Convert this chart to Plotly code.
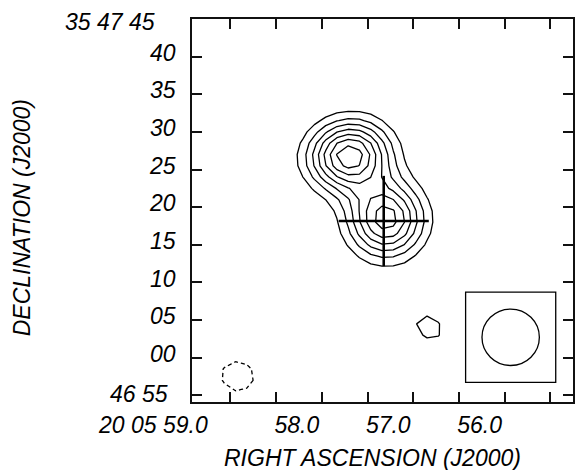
import numpy as np
import plotly.graph_objects as go

# Field centre declination (+35 47 00); RA in seconds of 20h05m, Dec in arcsec offset from +35 47 00
DEC0_DEG = 35 + 47 / 60
ARCSEC_PER_RA_SEC = 15 * np.cos(np.radians(DEC0_DEG))

# Source components: position, peak (in units of map rms), Gaussian sigma (arcsec), PA (deg, N through E)
comp_ra = [57.703, 57.300, 56.830, 58.920]
comp_dec = [26.87, 18.40, 4.06, -2.44]
comp_peak = [16.5, 14.2, 3.4, -3.7]
comp_sig_maj = [3.71, 3.50, 3.6, 3.4]
comp_sig_min = [3.13, 3.50, 2.9, 3.1]
comp_pa = [100.0, 0.0, 50.0, 80.0]

# Contour levels (multiples of rms)
pos_levels = [3, 5, 7, 9, 11, 13, 15]
neg_levels = [-3]

# Map pixel grid (1.5 arcsec cells)
CELL = 1.5
ra_grid = np.arange(55.0, 59.7, CELL / ARCSEC_PER_RA_SEC)
dec_grid = np.arange(-9.0, 48.0, CELL)

# Restoring beam and its box
beam_ra, beam_dec = 55.934, 2.72
beam_bmaj, beam_bmin = 7.64, 7.50   # FWHM arcsec, major axis E-W
beam_box_half = 6.0                 # arcsec

# Marked position (cross)
cross_ra, cross_dec = 57.323, 18.16
cross_half = 6.0                    # arcsec

# Axis ticks
ra_ticks = [59.0, 58.5, 58.0, 57.5, 57.0, 56.5, 56.0, 55.5]
ra_ticktext = ["", "", "58.0", "", "57.0", "", "56.0", ""]
ra_first_label = "20 05 59.0"
dec_ticks = [-5, 0, 5, 10, 15, 20, 25, 30, 35, 40, 45]
dec_ticktext = ["", "00", "05", "10", "15", "20", "25", "30", "35", "40", ""]
dec_first_label = "46 55"
dec_last_label = "35 47 45"

ra_range = [59.421, 55.252]
dec_range = [-5.88, 45.0]

# ---- model image ----
RA, DEC = np.meshgrid(ra_grid, dec_grid)
image = np.zeros_like(RA)
for ra0, dec0, pk, smaj, smin, pa in zip(comp_ra, comp_dec, comp_peak,
                                          comp_sig_maj, comp_sig_min, comp_pa):
    dx = (RA - ra0) * ARCSEC_PER_RA_SEC
    dy = DEC - dec0
    t = np.radians(pa)
    u = dx * np.sin(t) + dy * np.cos(t)
    v = dx * np.cos(t) - dy * np.sin(t)
    image += pk * np.exp(-0.5 * (u ** 2 / smaj ** 2 + v ** 2 / smin ** 2))

W, H = 577, 470
M = dict(l=192, r=2, t=19, b=68)
FRAME = "#111"

black = [[0, "black"], [1, "black"]]
font = dict(family="Liberation Sans, Arial, sans-serif", size=23, color="black", style="italic")

fig = go.Figure()
fig.add_trace(go.Contour(
    x=ra_grid, y=dec_grid, z=image,
    contours=dict(start=pos_levels[0], end=pos_levels[-1],
                  size=pos_levels[1] - pos_levels[0], coloring="lines"),
    line=dict(width=1.3, smoothing=0),
    colorscale=black, showscale=False, hoverinfo="skip",
))
fig.add_trace(go.Contour(
    x=ra_grid, y=dec_grid, z=image,
    contours=dict(start=neg_levels[0], end=neg_levels[0] + 0.1, size=1, coloring="lines"),
    line=dict(width=1.3, smoothing=0, dash="4px,3px"),
    colorscale=black, showscale=False, hoverinfo="skip",
))

# cross
cross_dra = cross_half / ARCSEC_PER_RA_SEC
fig.add_trace(go.Scatter(
    x=[cross_ra - cross_dra, cross_ra + cross_dra, None, cross_ra, cross_ra],
    y=[cross_dec, cross_dec, None, cross_dec - cross_half, cross_dec + cross_half],
    mode="lines", line=dict(color="black", width=2.6), hoverinfo="skip", showlegend=False,
))

# beam box and beam ellipse
box_dra = beam_box_half / ARCSEC_PER_RA_SEC
fig.add_shape(type="rect", xref="x", yref="y",
              x0=beam_ra - box_dra, x1=beam_ra + box_dra,
              y0=beam_dec - beam_box_half, y1=beam_dec + beam_box_half,
              line=dict(color="black", width=1.3))
beam_dra = beam_bmaj / 2 / ARCSEC_PER_RA_SEC
fig.add_shape(type="circle", xref="x", yref="y",
              x0=beam_ra - beam_dra, x1=beam_ra + beam_dra,
              y0=beam_dec - beam_bmin / 2, y1=beam_dec + beam_bmin / 2,
              line=dict(color="black", width=1.3))

# frame with inward ticks on all four sides
axis_common = dict(showgrid=False, zeroline=False, showline=True, linecolor=FRAME,
                   linewidth=1.5, mirror="allticks", ticks="inside", ticklen=10,
                   tickwidth=1.8, tickcolor=FRAME, tickfont=font)

fig.update_xaxes(range=ra_range, tickmode="array", tickvals=ra_ticks, ticktext=ra_ticktext,
                 ticklabelshift=25, ticklabelstandoff=2, **axis_common)
fig.update_yaxes(range=dec_range, tickmode="array", tickvals=dec_ticks, ticktext=dec_ticktext,
                 ticklabelshift=-4, ticklabelstandoff=10, **axis_common)

annots = [
    dict(text=ra_first_label, xref="x", x=ra_ticks[0], xanchor="right", xshift=-20,
         yref="paper", y=0, yanchor="top", yshift=-8, showarrow=False, font=font),
    dict(text=dec_first_label, xref="paper", x=0, xanchor="right", xshift=-22,
         yref="y", y=dec_ticks[0], yanchor="middle", yshift=1, showarrow=False, font=font),
    dict(text=dec_last_label, xref="paper", x=0, xanchor="right", xshift=-35,
         yref="y", y=dec_ticks[-1], yanchor="middle", yshift=-3, showarrow=False, font=font),
    dict(text="RIGHT ASCENSION (J2000)", xref="paper", x=0.4733, xanchor="center",
         yref="paper", y=-0.1475, yanchor="middle", showarrow=False, font=font),
    dict(text="DECLINATION (J2000)", xref="paper", x=-0.447, xanchor="center",
         yref="paper", y=0.4815, yanchor="middle", textangle=-90, showarrow=False, font=font),
]

fig.update_layout(
    width=W, height=H,
    margin=M,
    paper_bgcolor="white", plot_bgcolor="white",
    showlegend=False, annotations=annots,
)

fig.write_html("out.html", config={"displayModeBar": False})
